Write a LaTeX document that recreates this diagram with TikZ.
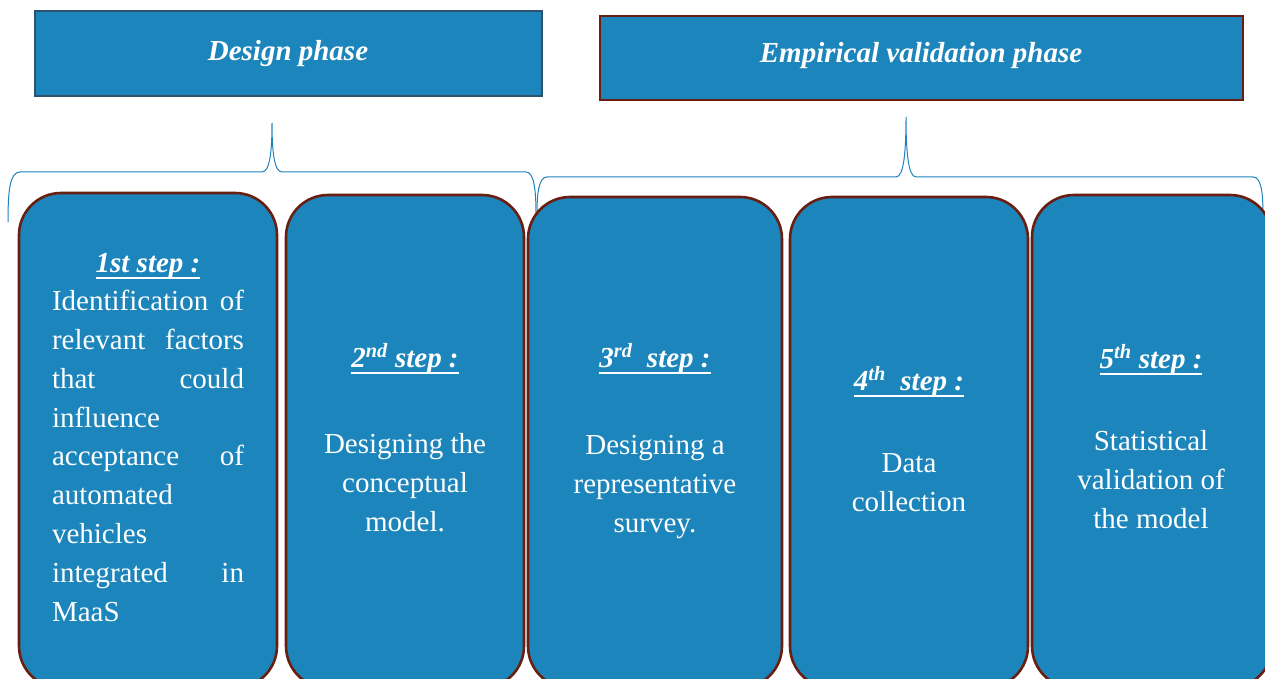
\documentclass[tikz,border=0pt]{standalone}
\usepackage{fontspec}
\setmainfont{Liberation Serif}
\definecolor{boxfill}{RGB}{28,133,187}
\definecolor{brownline}{RGB}{105,30,18}
\definecolor{slateline}{RGB}{46,82,108}
\definecolor{bracec}{RGB}{30,130,190}
\newcommand\myul[1]{\setbox0\hbox{#1}\rlap{\rule[-6.5pt]{\wd0}{2pt}}\box0}
\begin{document}
\begin{tikzpicture}[x=1pt,y=-1pt,
  every node/.style={inner sep=0pt, outer sep=0pt},
  phasebox/.style={line width=2.6pt, fill=boxfill, anchor=north west},
  stepbox/.style={draw=brownline, line width=2.6pt, fill=boxfill, rounded corners=42pt, anchor=north west},
  txt/.style={text=white, font=\fontsize{29}{38.8}\selectfont, anchor=base},
  lbl/.style={text=white, font=\fontsize{29}{38.8}\selectfont\bfseries\itshape, anchor=base},
  bracel/.style={draw=bracec, line width=1pt}]
\useasboundingbox (0,0) rectangle (1265,679);
\clip (0,0) rectangle (1265,679);
% phase boxes
\node[phasebox, draw=slateline, minimum width=507pt, minimum height=85pt] (design) at (35,11) {};
\node[phasebox, draw=brownline, minimum width=643pt, minimum height=84pt] (empir) at (600,16) {};
\node[lbl] (designt) at (288,61) {Design phase};
\node[lbl] (empirt) at (921,63) {Empirical validation phase};
% braces
\draw[bracel] (8,222) .. controls (8,190) and (10,172) .. (20,172) -- (262,172)
  .. controls (270,172) and (272,150) .. (272,123)
  .. controls (272,150) and (274,172) .. (282,172) -- (526,172)
  .. controls (534,172) and (536,190) .. (536,214);
\draw[bracel] (537,214) .. controls (537,192) and (539,177) .. (547,177) -- (896,177)
  .. controls (904,177) and (906,150) .. (906,117)
  .. controls (906,150) and (908,177) .. (916,177) -- (1253,177)
  .. controls (1261,177) and (1263,192) .. (1263,214);
% step boxes
\node[stepbox, minimum width=258pt, minimum height=495pt] (s1) at (19,193) {};
\node[stepbox, minimum width=238pt, minimum height=493pt] (s2) at (286,195) {};
\node[stepbox, minimum width=254pt, minimum height=491pt] (s3) at (528,197) {};
\node[stepbox, minimum width=238pt, minimum height=491pt] (s4) at (790,197) {};
\node[stepbox, minimum width=240pt, minimum height=493pt] (s5) at (1032,195) {};
% step 1
\node[lbl] (l1) at (148,272) {\myul{1st step :}};
\node[txt, align=left, anchor=base west] (t1) at (52,621) {%
\makebox[192pt][s]{Identification of}\\
\makebox[192pt][s]{relevant factors}\\
\makebox[192pt][s]{that could}\\
influence\\
\makebox[192pt][s]{acceptance of}\\
automated\\
vehicles\\
\makebox[192pt][s]{integrated in}\\
MaaS};
% step 2
\node[lbl] (l2) at (405,367) {\myul{2\textsuperscript{nd} step :}};
\node[txt, align=center] (t2) at (405,531) {Designing the\\conceptual\\model.};
% step 3
\node[lbl] (l3) at (655,367) {\myul{3\textsuperscript{rd}\ \ step :}};
\node[txt, align=center] (t3) at (655,532) {Designing a\\representative\\survey.};
% step 4
\node[lbl] (l4) at (909,390) {\myul{4\textsuperscript{th}\ \ step :}};
\node[txt, align=center] (t4) at (909,511) {Data\\collection};
% step 5
\node[lbl] (l5) at (1151,368) {\myul{5\textsuperscript{th} step :}};
\node[txt, align=center] (t5) at (1151,528) {Statistical\\validation of\\the model};
\end{tikzpicture}
\end{document}
